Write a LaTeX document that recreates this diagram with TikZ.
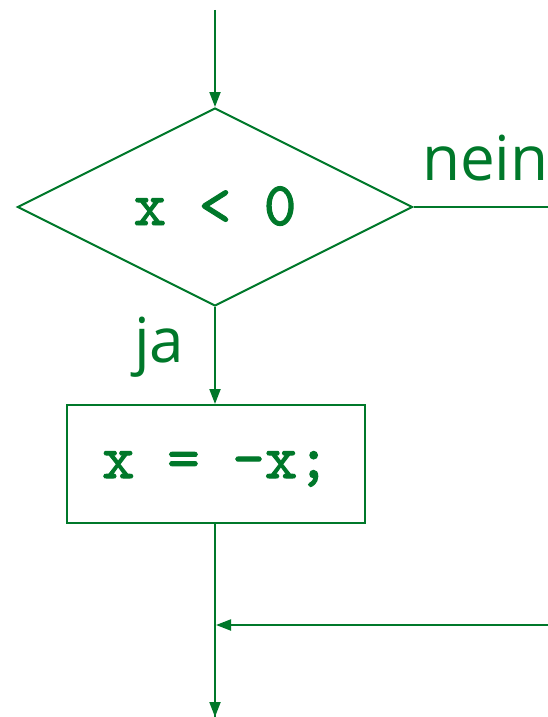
\documentclass[tikz,border=0pt]{standalone}
\usepackage{fontspec}
\setmainfont{Open Sans}
\newfontfamily\codefont{lmmono10-regular.otf}[FakeBold=1.6]
\usetikzlibrary{shapes.geometric,arrows.meta}
\definecolor{fg}{RGB}{0,120,42}
\begin{document}
\begin{tikzpicture}[x=1pt,y=-1pt,
  line width=2pt, draw=fg,
  flow/.style={draw=fg,line width=2pt,-{Triangle[length=15pt,width=11pt]}},
  codetext/.style={text=fg,font=\codefont\fontsize{62}{66}\selectfont},
  labeltext/.style={text=fg,font=\fontsize{62}{66}\selectfont}]
\useasboundingbox (0,0) rectangle (548,717);
\coordinate (top) at (215,10);
\node[draw=fg,diamond,minimum width=395pt,minimum height=198pt,inner sep=0pt,aspect=2,
  line width=2pt] (dec) at (215,207) {};
\node[codetext,anchor=base] at (215,225) {x < 0};
\node[draw=fg,rectangle,minimum width=298pt,minimum height=118pt,inner sep=0pt,line width=2pt] (box) at (216,464) {};
\node[codetext,anchor=base] at (216,478) {x = -x;};
\node[labeltext,anchor=base west,inner sep=0pt] (nein) at (421,180) {nein};
\node[labeltext,anchor=base west,inner sep=0pt] (ja) at (133,362) {ja};
\coordinate (rightend) at (548,207);
\coordinate (merge) at (215,625);
\coordinate (mergein) at (548,625);
\coordinate (bottom) at (215,717);
\draw[flow] (top) -- (dec.north);
\draw (dec.east) -- (rightend);
\draw[flow] (dec.south) -- (box.north -| dec.south);
\draw (box.south -| dec.south) -- (bottom);
\draw[flow] (bottom |- box.south) -- (bottom);
\draw[flow] (mergein) -- ([xshift=1pt]merge);
\end{tikzpicture}
\end{document}
